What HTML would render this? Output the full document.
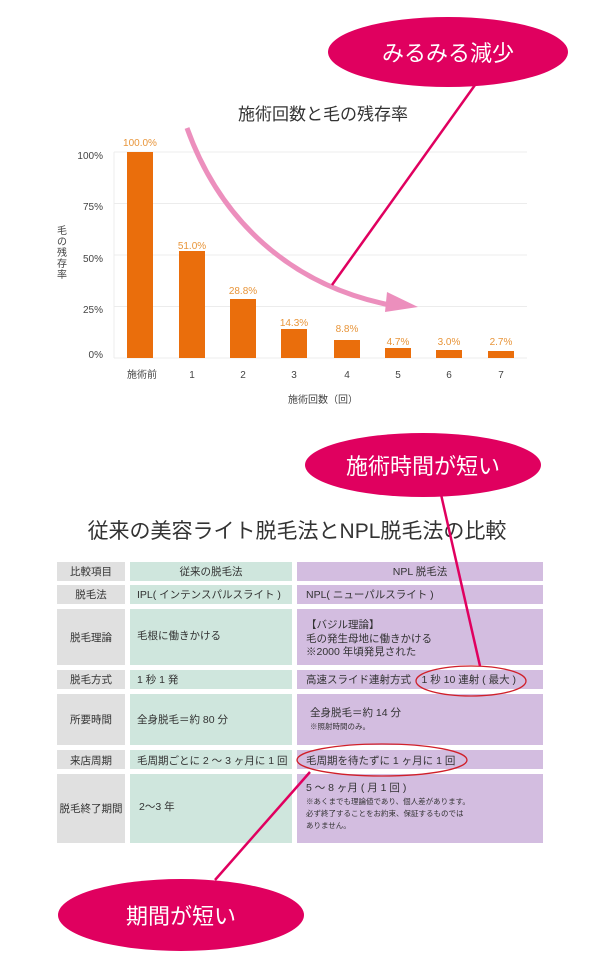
<!DOCTYPE html>
<html><head><meta charset="utf-8"><style>
html,body{margin:0;padding:0;background:#fff;}
svg{display:block;font-family:"Liberation Sans","Noto Sans CJK JP",sans-serif;}
</style></head><body>
<svg width="600" height="960" viewBox="0 0 600 960" xmlns="http://www.w3.org/2000/svg">
<text x="323" y="120" font-size="17" text-anchor="middle" fill="#333">施術回数と毛の残存率</text>
<g stroke="#ececec" stroke-width="1">
<line x1="114" y1="152" x2="527" y2="152"/>
<line x1="114" y1="203.5" x2="527" y2="203.5"/>
<line x1="114" y1="255" x2="527" y2="255"/>
<line x1="114" y1="306.5" x2="527" y2="306.5"/>
<line x1="114" y1="358" x2="527" y2="358"/>
<line x1="114" y1="152" x2="114" y2="358"/>
</g>
<g font-size="10" fill="#444" text-anchor="end">
<text x="103" y="159">100%</text>
<text x="103" y="210">75%</text>
<text x="103" y="262">50%</text>
<text x="103" y="313">25%</text>
<text x="103" y="358">0%</text>
</g>
<g font-size="10" fill="#444" text-anchor="middle">
<text x="62" y="234">毛</text><text x="62" y="245">の</text><text x="62" y="256">残</text><text x="62" y="267">存</text><text x="62" y="278">率</text>
</g>
<g fill="#ea6e0c">
<rect x="127" y="152" width="26" height="206"/>
<rect x="179" y="251" width="26" height="107"/>
<rect x="230" y="299" width="26" height="59"/>
<rect x="281" y="329" width="26" height="29"/>
<rect x="334" y="340" width="26" height="18"/>
<rect x="385" y="348" width="26" height="10"/>
<rect x="436" y="350" width="26" height="8"/>
<rect x="488" y="351" width="26" height="7"/>
</g>
<g font-size="10" fill="#e8953a" text-anchor="middle">
<text x="140" y="146">100.0%</text>
<text x="192" y="249">51.0%</text>
<text x="243" y="294">28.8%</text>
<text x="294" y="326">14.3%</text>
<text x="347" y="332">8.8%</text>
<text x="398" y="345">4.7%</text>
<text x="449" y="345">3.0%</text>
<text x="501" y="345">2.7%</text>
</g>
<g font-size="10" fill="#444" text-anchor="middle">
<text x="142" y="378">施術前</text>
<text x="192" y="378">1</text><text x="243" y="378">2</text><text x="294" y="378">3</text>
<text x="347" y="378">4</text><text x="398" y="378">5</text><text x="449" y="378">6</text><text x="501" y="378">7</text>
<text x="323" y="403">施術回数（回）</text>
</g>
<path d="M187,128 C220,220 290,285 390,305" fill="none" stroke="#ec8fbd" stroke-width="5"/>
<polygon points="387,292 418,307 385,312" fill="#ec8fbd"/>
<text x="297" y="538" font-size="21" fill="#333" text-anchor="middle">従来の美容ライト脱毛法とNPL脱毛法の比較</text>
<g fill="#e0e0e0">
<rect x="57" y="562" width="68" height="19"/><rect x="57" y="585" width="68" height="19"/>
<rect x="57" y="609" width="68" height="56"/><rect x="57" y="670" width="68" height="19"/>
<rect x="57" y="694" width="68" height="51"/><rect x="57" y="750" width="68" height="19"/>
<rect x="57" y="774" width="68" height="69"/>
</g>
<g fill="#cfe6dd">
<rect x="130" y="562" width="162" height="19"/><rect x="130" y="585" width="162" height="19"/>
<rect x="130" y="609" width="162" height="56"/><rect x="130" y="670" width="162" height="19"/>
<rect x="130" y="694" width="162" height="51"/><rect x="130" y="750" width="162" height="19"/>
<rect x="130" y="774" width="162" height="69"/>
</g>
<g fill="#d3bde0">
<rect x="297" y="562" width="246" height="19"/><rect x="297" y="585" width="246" height="19"/>
<rect x="297" y="609" width="246" height="56"/><rect x="297" y="670" width="246" height="19"/>
<rect x="297" y="694" width="246" height="51"/><rect x="297" y="750" width="246" height="19"/>
<rect x="297" y="774" width="246" height="69"/>
</g>
<g font-size="10.5" fill="#333" text-anchor="middle">
<text x="91" y="575">比較項目</text><text x="91" y="598">脱毛法</text>
<text x="91" y="641">脱毛理論</text><text x="91" y="683">脱毛方式</text>
<text x="91" y="723">所要時間</text><text x="91" y="764">来店周期</text>
<text x="91" y="812">脱毛終了期間</text>
<text x="211" y="575">従来の脱毛法</text><text x="420" y="575">NPL 脱毛法</text>
</g>
<g font-size="10.5" fill="#333">
<text x="137" y="598">IPL( インテンスパルスライト )</text>
<text x="137" y="639">毛根に働きかける</text>
<text x="137" y="683">1 秒 1 発</text>
<text x="137" y="723">全身脱毛＝約 80 分</text>
<text x="137" y="764">毛周期ごとに 2 ～ 3 ヶ月に 1 回</text>
<text x="139" y="810">2～3 年</text>
<text x="306" y="598">NPL( ニューパルスライト )</text>
<text x="306" y="628">【バジル理論】</text>
<text x="306" y="642">毛の発生母地に働きかける</text>
<text x="306" y="655">※2000 年頃発見された</text>
<text x="306" y="683">高速スライド連射方式　1 秒 10 連射 ( 最大 )</text>
<text x="310" y="716">全身脱毛＝約 14 分</text>
<text x="310" y="729" font-size="7.5">※照射時間のみ。</text>
<text x="306" y="764">毛周期を待たずに 1 ヶ月に 1 回</text>
<text x="306" y="791">5 ～ 8 ヶ月 ( 月 1 回 )</text>
<text x="306" y="804" font-size="7.5">※あくまでも理論値であり、個人差があります。</text>
<text x="306" y="816" font-size="7.5">必ず終了することをお約束、保証するものでは</text>
<text x="306" y="828" font-size="7.5">ありません。</text>
</g>
<ellipse cx="471" cy="681" rx="55" ry="15" fill="none" stroke="#d0202a" stroke-width="1.3"/>
<ellipse cx="382" cy="760" rx="85" ry="16" fill="none" stroke="#d0202a" stroke-width="1.3"/>
<g stroke="#e0005f" stroke-width="2.5">
<line x1="475" y1="85" x2="332" y2="285"/>
<line x1="440" y1="490" x2="480" y2="666"/>
<line x1="215" y1="880" x2="310" y2="772"/>
</g>
<ellipse cx="448" cy="52" rx="120" ry="35" fill="#e0005f"/>
<text x="448" y="61" font-size="22" fill="#fff" text-anchor="middle">みるみる減少</text>
<ellipse cx="423" cy="465" rx="118" ry="32" fill="#e0005f"/>
<text x="423" y="474" font-size="22" fill="#fff" text-anchor="middle">施術時間が短い</text>
<ellipse cx="181" cy="915" rx="123" ry="36" fill="#e0005f"/>
<text x="181" y="924" font-size="22" fill="#fff" text-anchor="middle">期間が短い</text>
</svg>
</body></html>
